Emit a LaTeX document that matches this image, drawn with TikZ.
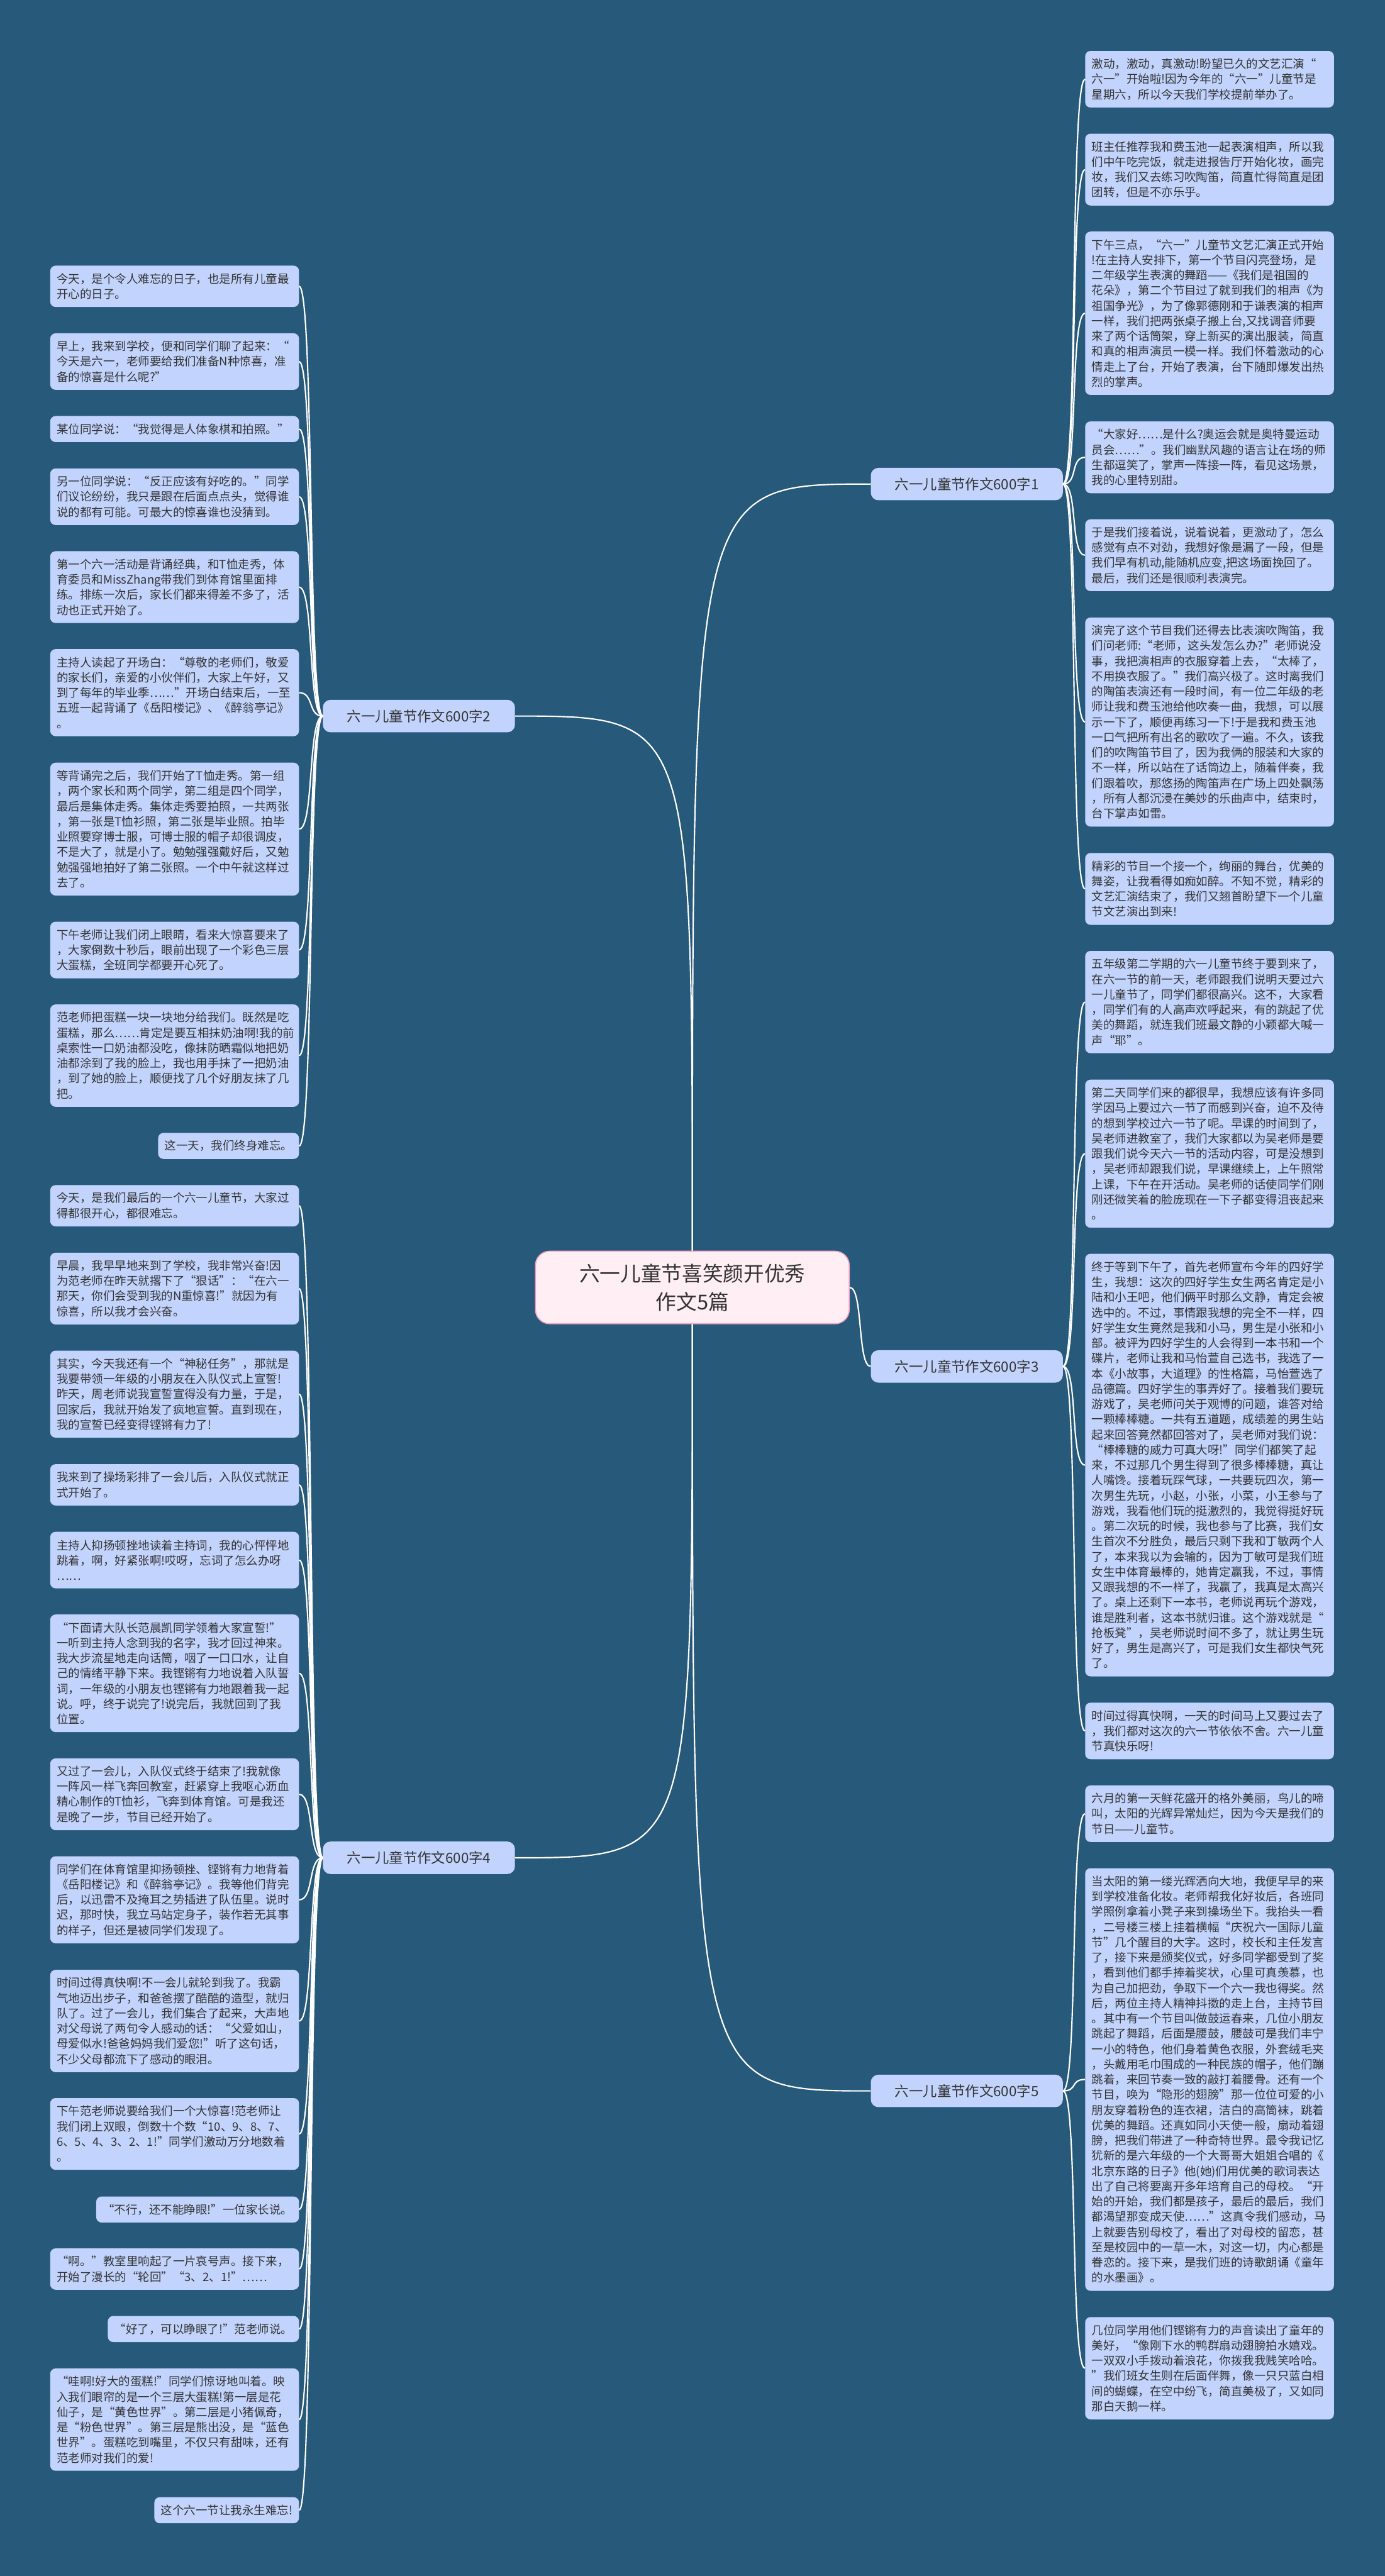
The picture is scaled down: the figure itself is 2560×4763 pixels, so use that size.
\documentclass[tikz,border=0pt]{standalone}
\usepackage{fontspec}
\newfontfamily\zhfont{Noto Sans CJK SC}
\definecolor{bgblue}{HTML}{27597B}
\definecolor{leafblue}{HTML}{C2D4FD}
\definecolor{ctrpink}{HTML}{FFEEF4}
\definecolor{ctrline}{HTML}{F3A6C3}
\definecolor{txtgray}{HTML}{333333}
\begin{document}
\begin{tikzpicture}[x=1pt,y=-1pt,
  leaf/.style={fill=leafblue,text=txtgray,rounded corners=10pt,inner xsep=12pt,inner ysep=0pt,align=left,font=\zhfont\fontsize{21.5}{28.2}\selectfont},
  full/.style={text width=436pt},
  nl/.style={minimum height={20+28.2*#1}},
  branch/.style={fill=leafblue,text=txtgray,rounded corners=14pt,minimum width=355pt,minimum height=60pt,font=\zhfont\fontsize{26}{30}\selectfont},
  link/.style={draw=white,line width=2.5pt}]
\useasboundingbox (0,0) rectangle (2560,4763);
\fill[bgblue] (0,0) rectangle (2560,4763);

% centre
\node[fill=ctrpink,draw=ctrline,line width=2pt,rounded corners=26pt,minimum width=580pt,minimum height=134pt,align=center,text=txtgray,font=\zhfont\fontsize{38}{52}\selectfont] (ctr) at (1280,2380.5) {六一儿童节喜笑颜开优秀\\作文5篇};

% branches
\node[branch] (b1) at (1787.5,895) {六一儿童节作文600字1};
\node[branch] (b2) at (774.5,1324) {六一儿童节作文600字2};
\node[branch] (b3) at (1787.5,2526.5) {六一儿童节作文600字3};
\node[branch] (b4) at (774.5,3435) {六一儿童节作文600字4};
\node[branch] (b5) at (1787.5,3866) {六一儿童节作文600字5};

% essay 1
\node[leaf,full,nl=3,anchor=north west] (r1) at (2006,94) {激动，激动，真激动!盼望已久的文艺汇演“\\六一”开始啦!因为今年的“六一”儿童节是\\星期六，所以今天我们学校提前举办了。};
\node[leaf,full,nl=4,anchor=north west] (r2) at (2006,247) {班主任推荐我和费玉池一起表演相声，所以我\\们中午吃完饭，就走进报告厅开始化妆，画完\\妆，我们又去练习吹陶笛，简直忙得简直是团\\团转，但是不亦乐乎。};
\node[leaf,full,nl=10,anchor=north west] (r3) at (2006,428) {下午三点，“六一”儿童节文艺汇演正式开始\\!在主持人安排下，第一个节目闪亮登场，是\\二年级学生表演的舞蹈——《我们是祖国的\\花朵》，第二个节目过了就到我们的相声《为\\祖国争光》，为了像郭德刚和于谦表演的相声\\一样，我们把两张桌子搬上台,又找调音师要\\来了两个话筒架，穿上新买的演出服装，简直\\和真的相声演员一模一样。我们怀着激动的心\\情走上了台，开始了表演，台下随即爆发出热\\烈的掌声。};
\node[leaf,full,nl=4,anchor=north west] (r4) at (2006,779) {“大家好……是什么?奥运会就是奥特曼运动\\员会……”。我们幽默风趣的语言让在场的师\\生都逗笑了，掌声一阵接一阵，看见这场景，\\我的心里特别甜。};
\node[leaf,full,nl=4,anchor=north west] (r5) at (2006,960) {于是我们接着说，说着说着，更激动了，怎么\\感觉有点不对劲，我想好像是漏了一段，但是\\我们早有机动,能随机应变,把这场面挽回了。\\最后，我们还是很顺利表演完。};
\node[leaf,full,nl=13,anchor=north west] (r6) at (2006,1141.5) {演完了这个节目我们还得去比表演吹陶笛，我\\们问老师:“老师，这头发怎么办?”老师说没\\事，我把演相声的衣服穿着上去，“太棒了，\\不用换衣服了。”我们高兴极了。这时离我们\\的陶笛表演还有一段时间，有一位二年级的老\\师让我和费玉池给他吹奏一曲，我想，可以展\\示一下了，顺便再练习一下!于是我和费玉池\\一口气把所有出名的歌吹了一遍。不久，该我\\们的吹陶笛节目了，因为我俩的服装和大家的\\不一样，所以站在了话筒边上，随着伴奏，我\\们跟着吹，那悠扬的陶笛声在广场上四处飘荡\\，所有人都沉浸在美妙的乐曲声中，结束时，\\台下掌声如雷。};
\node[leaf,full,nl=4,anchor=north west] (r7) at (2006,1577) {精彩的节目一个接一个，绚丽的舞台，优美的\\舞姿，让我看得如痴如醉。不知不觉，精彩的\\文艺汇演结束了，我们又翘首盼望下一个儿童\\节文艺演出到来!};

% essay 3
\node[leaf,full,nl=6,anchor=north west] (r8) at (2006,1758) {五年级第二学期的六一儿童节终于要到来了，\\在六一节的前一天，老师跟我们说明天要过六\\一儿童节了，同学们都很高兴。这不，大家看\\，同学们有的人高声欢呼起来，有的跳起了优\\美的舞蹈，就连我们班最文静的小颖都大喊一\\声“耶”。};
\node[leaf,full,nl=9,anchor=north west] (r9) at (2006,1996) {第二天同学们来的都很早，我想应该有许多同\\学因马上要过六一节了而感到兴奋，迫不及待\\的想到学校过六一节了呢。早课的时间到了，\\吴老师进教室了，我们大家都以为吴老师是要\\跟我们说今天六一节的活动内容，可是没想到\\，吴老师却跟我们说，早课继续上，上午照常\\上课，下午在开活动。吴老师的话使同学们刚\\刚还微笑着的脸庞现在一下子都变得沮丧起来\\。};
\node[leaf,full,nl=27,anchor=north west] (r10) at (2006,2318) {终于等到下午了，首先老师宣布今年的四好学\\生，我想：这次的四好学生女生两名肯定是小\\陆和小王吧，他们俩平时那么文静，肯定会被\\选中的。不过，事情跟我想的完全不一样，四\\好学生女生竟然是我和小马，男生是小张和小\\部。被评为四好学生的人会得到一本书和一个\\碟片，老师让我和马怡萱自己选书，我选了一\\本《小故事，大道理》的性格篇，马怡萱选了\\品德篇。四好学生的事弄好了。接着我们要玩\\游戏了，吴老师问关于观博的问题，谁答对给\\一颗棒棒糖。一共有五道题，成绩差的男生站\\起来回答竟然都回答对了，吴老师对我们说：\\“棒棒糖的威力可真大呀!”同学们都笑了起\\来，不过那几个男生得到了很多棒棒糖，真让\\人嘴馋。接着玩踩气球，一共要玩四次，第一\\次男生先玩，小赵，小张，小菜，小王参与了\\游戏，我看他们玩的挺激烈的，我觉得挺好玩\\。第二次玩的时候，我也参与了比赛，我们女\\生首次不分胜负，最后只剩下我和丁敏两个人\\了，本来我以为会输的，因为丁敏可是我们班\\女生中体育最棒的，她肯定赢我，不过，事情\\又跟我想的不一样了，我赢了，我真是太高兴\\了。桌上还剩下一本书，老师说再玩个游戏，\\谁是胜利者，这本书就归谁。这个游戏就是“\\抢板凳”，吴老师说时间不多了，就让男生玩\\好了，男生是高兴了，可是我们女生都快气死\\了。};
\node[leaf,full,nl=3,anchor=north west] (r11) at (2006,3148) {时间过得真快啊，一天的时间马上又要过去了\\，我们都对这次的六一节依依不舍。六一儿童\\节真快乐呀!};

% essay 5
\node[leaf,full,nl=3,anchor=north west] (r12) at (2006,3301) {六月的第一天鲜花盛开的格外美丽，鸟儿的啼\\叫，太阳的光辉异常灿烂，因为今天是我们的\\节日——儿童节。};
\node[leaf,full,nl=27,anchor=north west] (r13) at (2006,3454) {当太阳的第一缕光辉洒向大地，我便早早的来\\到学校准备化妆。老师帮我化好妆后，各班同\\学照例拿着小凳子来到操场坐下。我抬头一看\\，二号楼三楼上挂着横幅“庆祝六一国际儿童\\节”几个醒目的大字。这时，校长和主任发言\\了，接下来是颁奖仪式，好多同学都受到了奖\\，看到他们都手捧着奖状，心里可真羡慕，也\\为自己加把劲，争取下一个六一我也得奖。然\\后，两位主持人精神抖擞的走上台，主持节目\\。其中有一个节目叫做鼓运春来，几位小朋友\\跳起了舞蹈，后面是腰鼓，腰鼓可是我们丰宁\\一小的特色，他们身着黄色衣服，外套绒毛夹\\，头戴用毛巾围成的一种民族的帽子，他们蹦\\跳着，来回节奏一致的敲打着腰骨。还有一个\\节目，唤为“隐形的翅膀”那一位位可爱的小\\朋友穿着粉色的连衣裙，洁白的高筒袜，跳着\\优美的舞蹈。还真如同小天使一般，扇动着翅\\膀，把我们带进了一种奇特世界。最令我记忆\\犹新的是六年级的一个大哥哥大姐姐合唱的《\\北京东路的日子》他(她)们用优美的歌词表达\\出了自己将要离开多年培育自己的母校。“开\\始的开始，我们都是孩子，最后的最后，我们\\都渴望那变成天使……”这真令我们感动，马\\上就要告别母校了，看出了对母校的留恋，甚\\至是校园中的一草一木，对这一切，内心都是\\眷恋的。接下来，是我们班的诗歌朗诵《童年\\的水墨画》。};
\node[leaf,full,nl=6,anchor=north west] (r14) at (2006,4284) {几位同学用他们铿锵有力的声音读出了童年的\\美好，“像刚下水的鸭群扇动翅膀拍水嬉戏。\\一双双小手拨动着浪花，你拨我我贱笑哈哈。\\”我们班女生则在后面伴舞，像一只只蓝白相\\间的蝴蝶，在空中纷飞，简直美极了，又如同\\那白天鹅一样。};

% essay 2
\node[leaf,full,nl=2,anchor=north east] (l1) at (553,491) {今天，是个令人难忘的日子，也是所有儿童最\\开心的日子。};
\node[leaf,full,nl=3,anchor=north east] (l2) at (553,616) {早上，我来到学校，便和同学们聊了起来：“\\今天是六一，老师要给我们准备N种惊喜，准\\备的惊喜是什么呢?”};
\node[leaf,full,nl=1,anchor=north east] (l3) at (553,769) {某位同学说：“我觉得是人体象棋和拍照。”};
\node[leaf,full,nl=3,anchor=north east] (l4) at (553,866) {另一位同学说：“反正应该有好吃的。”同学\\们议论纷纷，我只是跟在后面点点头，觉得谁\\说的都有可能。可最大的惊喜谁也没猜到。};
\node[leaf,full,nl=4,anchor=north east] (l5) at (553,1019) {第一个六一活动是背诵经典，和T恤走秀，体\\育委员和MissZhang带我们到体育馆里面排\\练。排练一次后，家长们都来得差不多了，活\\动也正式开始了。};
\node[leaf,full,nl=5,anchor=north east] (l6) at (553,1200) {主持人读起了开场白：“尊敬的老师们，敬爱\\的家长们，亲爱的小伙伴们，大家上午好，又\\到了每年的毕业季……”开场白结束后，一至\\五班一起背诵了《岳阳楼记》、《醉翁亭记》\\。};
\node[leaf,full,nl=8,anchor=north east] (l7) at (553,1410) {等背诵完之后，我们开始了T恤走秀。第一组\\，两个家长和两个同学，第二组是四个同学，\\最后是集体走秀。集体走秀要拍照，一共两张\\，第一张是T恤衫照，第二张是毕业照。拍毕\\业照要穿博士服，可博士服的帽子却很调皮，\\不是大了，就是小了。勉勉强强戴好后，又勉\\勉强强地拍好了第二张照。一个中午就这样过\\去了。};
\node[leaf,full,nl=3,anchor=north east] (l8) at (553,1704) {下午老师让我们闭上眼睛，看来大惊喜要来了\\，大家倒数十秒后，眼前出现了一个彩色三层\\大蛋糕，全班同学都要开心死了。};
\node[leaf,full,nl=6,anchor=north east] (l9) at (553,1857) {范老师把蛋糕一块一块地分给我们。既然是吃\\蛋糕，那么……肯定是要互相抹奶油啊!我的前\\桌索性一口奶油都没吃，像抹防晒霜似地把奶\\油都涂到了我的脸上，我也用手抹了一把奶油\\，到了她的脸上，顺便找了几个好朋友抹了几\\把。};
\node[leaf,nl=1,anchor=north east] (l10) at (553,2094.5) {这一天，我们终身难忘。};

% essay 4
\node[leaf,full,nl=2,anchor=north east] (l11) at (553,2191) {今天，是我们最后的一个六一儿童节，大家过\\得都很开心，都很难忘。};
\node[leaf,full,nl=4,anchor=north east] (l12) at (553,2316) {早晨，我早早地来到了学校，我非常兴奋!因\\为范老师在昨天就撂下了“狠话”：“在六一\\那天，你们会受到我的N重惊喜!”就因为有\\惊喜，所以我才会兴奋。};
\node[leaf,full,nl=5,anchor=north east] (l13) at (553,2497) {其实，今天我还有一个“神秘任务”，那就是\\我要带领一年级的小朋友在入队仪式上宣誓!\\昨天，周老师说我宣誓宣得没有力量，于是，\\回家后，我就开始发了疯地宣誓。直到现在，\\我的宣誓已经变得铿锵有力了!};
\node[leaf,full,nl=2,anchor=north east] (l14) at (553,2707) {我来到了操场彩排了一会儿后，入队仪式就正\\式开始了。};
\node[leaf,full,nl=3,anchor=north east] (l15) at (553,2832) {主持人抑扬顿挫地读着主持词，我的心怦怦地\\跳着，啊，好紧张啊!哎呀，忘词了怎么办呀\\……};
\node[leaf,full,nl=7,anchor=north east] (l16) at (553,2985) {“下面请大队长范晨凯同学领着大家宣誓!”\\一听到主持人念到我的名字，我才回过神来。\\我大步流星地走向话筒，咽了一口口水，让自\\己的情绪平静下来。我铿锵有力地说着入队誓\\词，一年级的小朋友也铿锵有力地跟着我一起\\说。呼，终于说完了!说完后，我就回到了我\\位置。};
\node[leaf,full,nl=4,anchor=north east] (l17) at (553,3251) {又过了一会儿，入队仪式终于结束了!我就像\\一阵风一样飞奔回教室，赶紧穿上我呕心沥血\\精心制作的T恤衫，飞奔到体育馆。可是我还\\是晚了一步，节目已经开始了。};
\node[leaf,full,nl=5,anchor=north east] (l18) at (553,3432) {同学们在体育馆里抑扬顿挫、铿锵有力地背着\\《岳阳楼记》和《醉翁亭记》。我等他们背完\\后，以迅雷不及掩耳之势插进了队伍里。说时\\迟，那时快，我立马站定身子，装作若无其事\\的样子，但还是被同学们发现了。};
\node[leaf,full,nl=6,anchor=north east] (l19) at (553,3642) {时间过得真快啊!不一会儿就轮到我了。我霸\\气地迈出步子，和爸爸摆了酷酷的造型，就归\\队了。过了一会儿，我们集合了起来，大声地\\对父母说了两句令人感动的话：“父爱如山，\\母爱似水!爸爸妈妈我们爱您!”听了这句话，\\不少父母都流下了感动的眼泪。};
\node[leaf,full,nl=4,anchor=north east] (l20) at (553,3879) {下午范老师说要给我们一个大惊喜!范老师让\\我们闭上双眼，倒数十个数“10、9、8、7、\\6、5、4、3、2、1!”同学们激动万分地数着\\。};
\node[leaf,nl=1,anchor=north east] (l21) at (553,4061) {“不行，还不能睁眼!”一位家长说。};
\node[leaf,full,nl=2,anchor=north east] (l22) at (553,4157) {“啊。”教室里响起了一片哀号声。接下来，\\开始了漫长的“轮回”“3、2、1!”……};
\node[leaf,nl=1,anchor=north east] (l23) at (553,4282) {“好了，可以睁眼了!”范老师说。};
\node[leaf,full,nl=6,anchor=north east] (l24) at (553,4379) {“哇啊!好大的蛋糕!”同学们惊讶地叫着。映\\入我们眼帘的是一个三层大蛋糕!第一层是花\\仙子，是“黄色世界”。第二层是小猪佩奇，\\是“粉色世界”。第三层是熊出没，是“蓝色\\世界”。蛋糕吃到嘴里，不仅只有甜味，还有\\范老师对我们的爱!};
\node[leaf,nl=1,anchor=north east] (l25) at (553,4617) {这个六一节让我永生难忘!};

% links
\draw[link] (ctr.north) .. controls (ctr.north |- b1) .. (b1.west);
\draw[link] (ctr.north) .. controls (ctr.north |- b2) .. (b2.east);
\draw[link] (ctr.east) .. controls +(25,0) and +(-25,0) .. (b3.west);
\draw[link] (ctr.south) .. controls (ctr.south |- b4) .. (b4.east);
\draw[link] (ctr.south) .. controls (ctr.south |- b5) .. (b5.west);
\foreach \i in {1,...,7} \draw[link] (b1.east) .. controls +(28,0) and +(-28,0) .. (r\i.west);
\foreach \i in {8,...,11} \draw[link] (b3.east) .. controls +(28,0) and +(-28,0) .. (r\i.west);
\foreach \i in {12,...,14} \draw[link] (b5.east) .. controls +(28,0) and +(-28,0) .. (r\i.west);
\foreach \i in {1,...,10} \draw[link] (b2.west) .. controls +(-28,0) and +(28,0) .. (l\i.east);
\foreach \i in {11,...,25} \draw[link] (b4.west) .. controls +(-28,0) and +(28,0) .. (l\i.east);
\end{tikzpicture}
\end{document}
